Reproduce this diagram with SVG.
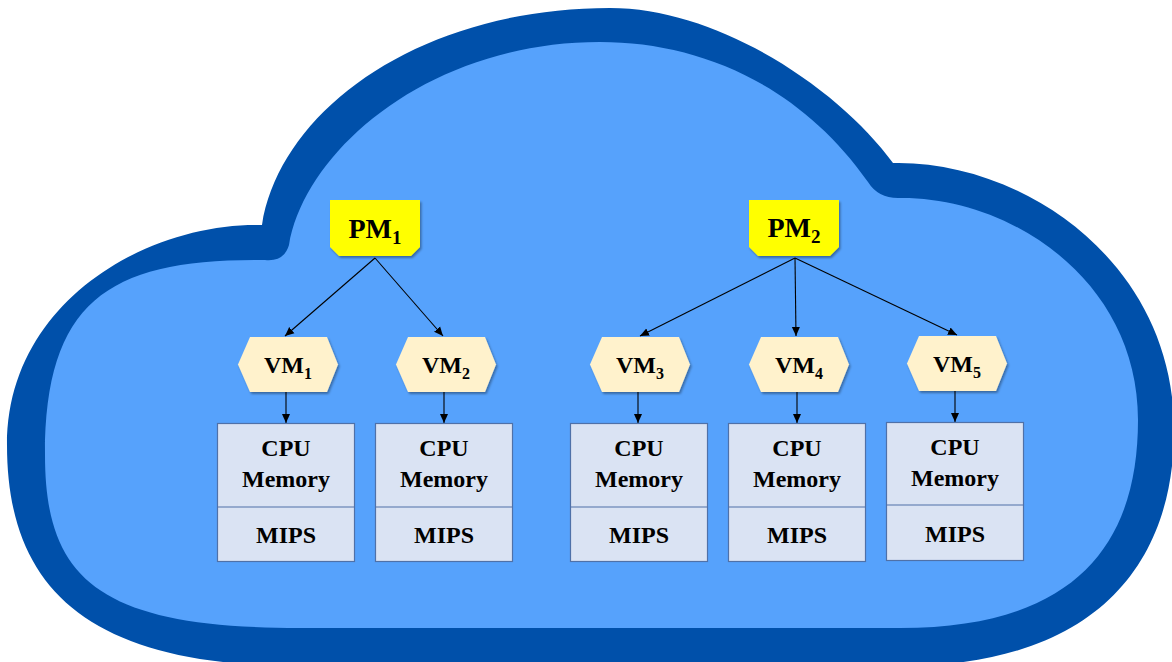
<svg xmlns="http://www.w3.org/2000/svg" width="1172" height="662" viewBox="0 0 1172 662">
  <style>
    .t { font-family: "Liberation Serif", "Times New Roman", serif; font-weight: bold; fill: #000; text-anchor: middle; }
    .pm { fill: #FFFF00; }
    .vm { fill: #FFF2CC; }
    .box { fill: #DAE3F3; stroke: #4F71A8; stroke-width: 1.2; }
    .conn { stroke: #000; stroke-width: 1.1; fill: none; marker-end: url(#arr); }
  </style>
  <defs>
    <marker id="arr" markerUnits="userSpaceOnUse" markerWidth="10" markerHeight="10" viewBox="0 0 10 10" refX="9" refY="5" orient="auto">
      <path d="M0,1 L9,5 L0,9 Z" fill="#000"/>
    </marker>
    <filter id="sh" x="-10%" y="-10%" width="130%" height="140%">
      <feDropShadow dx="1.5" dy="2" stdDeviation="1.2" flood-color="#000" flood-opacity="0.35"/>
    </filter>
  </defs>
  <rect width="1172" height="662" fill="#FFFFFF"/>
  <g id="cloud">
    <path d="M262,225 C280,110 420,8 610,8 C720,8 840,90 893,163 C1020,160 1174,260 1174,430 C1174,560 1100,666 900,666 L300,666 C90,666 7,590 7,445 C7,300 150,222 262,225 Z" fill="#0050AA"/>
    <path d="M289,245 C305,150 430,42 600,42 C700,42 800,85 868,182 Q878,198 898,198 C1010,196 1138,280 1138,420 C1138,540 1080,628 900,628 L300,628 C100,628 45,580 45,455 C45,300 110,258 265,260 Q284,262 289,245 Z" fill="#56A2FC"/>
  </g>
  <g id="connectors">
    <line class="conn" x1="375" y1="258" x2="285" y2="336"/>
    <line class="conn" x1="375" y1="258" x2="443" y2="336"/>
    <line class="conn" x1="795" y1="258" x2="640" y2="336"/>
    <line class="conn" x1="795" y1="258" x2="796" y2="336"/>
    <line class="conn" x1="795" y1="258" x2="957" y2="335"/>
    <line class="conn" x1="286" y1="392" x2="286" y2="423"/>
    <line class="conn" x1="444" y1="392" x2="444" y2="423"/>
    <line class="conn" x1="638" y1="392" x2="638" y2="423"/>
    <line class="conn" x1="797" y1="392" x2="797" y2="423"/>
    <line class="conn" x1="955" y1="391" x2="955" y2="422"/>
  </g>
  <g id="pm1">
    <path class="pm" filter="url(#sh)" d="M330,200 H420 V247 L411,256 H339 L330,247 Z"/>
    <text class="t" x="375" y="238" font-size="28">PM<tspan font-size="19" dy="6">1</tspan></text>
  </g>
  <g id="pm2">
    <path class="pm" filter="url(#sh)" d="M749,200 H839 V247 L830,256 H758 L749,247 Z"/>
    <text class="t" x="794" y="237" font-size="28">PM<tspan font-size="19" dy="6">2</tspan></text>
  </g>
  <g id="vm1">
    <path class="vm" filter="url(#sh)" d="M250,337 H327 L338,364.5 L327,392 H250 L238,364.5 Z"/>
    <text class="t" x="288" y="373" font-size="24">VM<tspan font-size="16" dy="6">1</tspan></text>
  </g>
  <g id="vm2">
    <path class="vm" filter="url(#sh)" d="M408,337 H485 L496,364.5 L485,392 H408 L396,364.5 Z"/>
    <text class="t" x="446" y="373" font-size="24">VM<tspan font-size="16" dy="6">2</tspan></text>
  </g>
  <g id="vm3">
    <path class="vm" filter="url(#sh)" d="M602,337 H679 L690,364.5 L679,392 H602 L590,364.5 Z"/>
    <text class="t" x="640" y="373" font-size="24">VM<tspan font-size="16" dy="6">3</tspan></text>
  </g>
  <g id="vm4">
    <path class="vm" filter="url(#sh)" d="M761,337 H838 L849,364.5 L838,392 H761 L749,364.5 Z"/>
    <text class="t" x="799" y="373" font-size="24">VM<tspan font-size="16" dy="6">4</tspan></text>
  </g>
  <g id="vm5">
    <path class="vm" filter="url(#sh)" d="M919,336 H996 L1007,363.5 L996,391 H919 L907,363.5 Z"/>
    <text class="t" x="957" y="372" font-size="24">VM<tspan font-size="16" dy="6">5</tspan></text>
  </g>
  <g id="res1">
    <rect class="box" x="217.5" y="423.5" width="137" height="138"/>
    <line class="box" x1="217.5" y1="507" x2="354.5" y2="507"/>
    <text class="t" x="286" y="456" font-size="24">CPU</text>
    <text class="t" x="286" y="487" font-size="24">Memory</text>
    <text class="t" x="286" y="543" font-size="24">MIPS</text>
  </g>
  <g id="res2">
    <rect class="box" x="375.5" y="423.5" width="137" height="138"/>
    <line class="box" x1="375.5" y1="507" x2="512.5" y2="507"/>
    <text class="t" x="444" y="456" font-size="24">CPU</text>
    <text class="t" x="444" y="487" font-size="24">Memory</text>
    <text class="t" x="444" y="543" font-size="24">MIPS</text>
  </g>
  <g id="res3">
    <rect class="box" x="570.5" y="423.5" width="137" height="138"/>
    <line class="box" x1="570.5" y1="507" x2="707.5" y2="507"/>
    <text class="t" x="639" y="456" font-size="24">CPU</text>
    <text class="t" x="639" y="487" font-size="24">Memory</text>
    <text class="t" x="639" y="543" font-size="24">MIPS</text>
  </g>
  <g id="res4">
    <rect class="box" x="728.5" y="423.5" width="137" height="138"/>
    <line class="box" x1="728.5" y1="507" x2="865.5" y2="507"/>
    <text class="t" x="797" y="456" font-size="24">CPU</text>
    <text class="t" x="797" y="487" font-size="24">Memory</text>
    <text class="t" x="797" y="543" font-size="24">MIPS</text>
  </g>
  <g id="res5">
    <rect class="box" x="886.5" y="422.5" width="137" height="138"/>
    <line class="box" x1="886.5" y1="505" x2="1023.5" y2="505"/>
    <text class="t" x="955" y="455" font-size="24">CPU</text>
    <text class="t" x="955" y="486" font-size="24">Memory</text>
    <text class="t" x="955" y="542" font-size="24">MIPS</text>
  </g>
</svg>
